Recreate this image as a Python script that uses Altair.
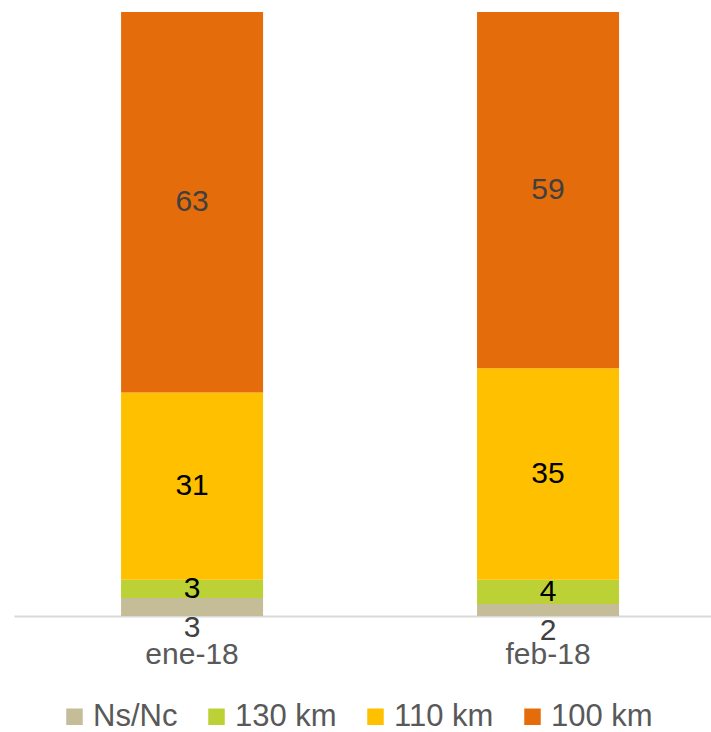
import altair as alt
import pandas as pd

# Monthly share of speed-limit categories (percent)
months = ["ene-18", "feb-18"]
series = ["Ns/Nc", "130 km", "110 km", "100 km"]
ns_nc = [3, 2]
km130 = [3, 4]
km110 = [31, 35]
km100 = [63, 59]
colors = ["#c4bd97", "#bcd135", "#ffc000", "#e46c0a"]
label_colors = ["#404040", "#000000", "#000000", "#404040"]

rows = []
for i, m in enumerate(months):
    for k, (s, vals) in enumerate(zip(series, [ns_nc, km130, km110, km100])):
        rows.append({"month": m, "series": s, "value": vals[i], "order": k,
                     "lcolor": label_colors[k]})
df = pd.DataFrame(rows)

FONT = "Liberation Sans"

x_enc = alt.X(
    "month:N",
    sort=months,
    scale=alt.Scale(paddingInner=0.601, paddingOuter=0.2795, align=0.538),
    axis=alt.Axis(title=None, labelAngle=0, ticks=False, grid=False,
                  domainColor="#d9d9d9", domainWidth=2,
                  labelFont=FONT, labelFontSize=30, labelColor="#595959",
                  labelPadding=23),
)

base = alt.Chart(df)

bars = base.mark_bar(size=142).encode(
    x=x_enc,
    y=alt.Y("value:Q", stack="zero",
            scale=alt.Scale(domain=[0, 100], nice=False),
            axis=None),
    color=alt.Color("series:N", sort=series,
                    scale=alt.Scale(domain=series, range=colors),
                    legend=alt.Legend(
                        title=None, orient="none", direction="horizontal",
                        legendX=45, legendY=689,
                        symbolType="square", symbolSize=272,
                        symbolStrokeWidth=0, labelFont=FONT,
                        labelFontSize=31, labelColor="#595959",
                        labelOffset=3, columnPadding=23)),
    order=alt.Order("order:Q"),
)

stacked = base.transform_stack(
    stack="value", groupby=["month"], as_=["y0", "y1"],
    sort=[alt.SortField("order", order="ascending")],
).transform_calculate(mid="(datum.y0 + datum.y1) / 2")

inner_labels = stacked.transform_filter("datum.order > 0").mark_text(
    font=FONT, fontSize=30, baseline="middle", align="center"
).encode(
    x=alt.X("month:N", sort=months),
    y=alt.Y("mid:Q", axis=None),
    text="value:Q",
    color=alt.Color("lcolor:N", scale=None),
)

base_labels = stacked.transform_filter("datum.order == 0").mark_text(
    font=FONT, fontSize=30, baseline="middle", align="center", dy=21
).encode(
    x=alt.X("month:N", sort=months),
    y=alt.Y("mid:Q", axis=None),
    text="value:Q",
    color=alt.Color("lcolor:N", scale=None),
)

chart = alt.layer(bars, inner_labels, base_labels).properties(
    width=697, height=604,
    autosize=alt.AutoSizeParams(type="none"),
    padding={"left": 14, "top": 12, "right": 0, "bottom": 116},
    view=alt.ViewBackground(stroke="transparent", strokeOpacity=0, strokeWidth=0),
).configure_view(stroke="transparent", strokeOpacity=0, strokeWidth=0).configure_axisY(
    grid=False, domain=False
).configure(background="white")

chart.save("out.html", embed_options={"renderer": "svg", "actions": False})
